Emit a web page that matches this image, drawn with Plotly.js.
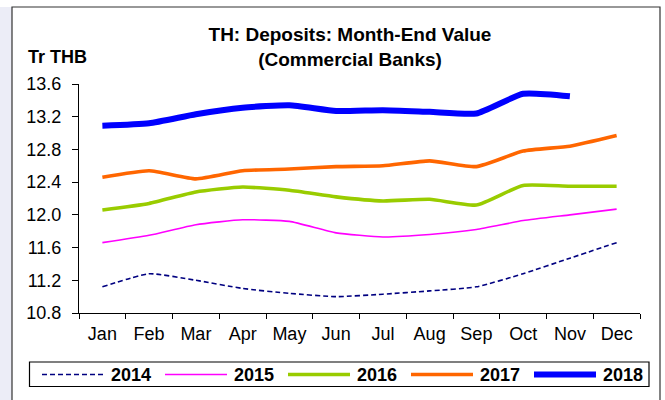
<!DOCTYPE html>
<html>
<head>
<meta charset="utf-8">
<script src="https://cdn.plot.ly/plotly-3.0.1.min.js"></script>
<style>html,body{margin:0;padding:0;background:#fff;}#chart{width:665px;height:400px;}</style>
</head>
<body>
<div id="chart"></div>
<script>
const months = ['Jan','Feb','Mar','Apr','May','Jun','Jul','Aug','Sep','Oct','Nov','Dec'];
const years = ['2014','2015','2016','2017','2018'];
const v2014 = [11.12, 11.28, 11.20, 11.10, 11.04, 11.00, 11.03, 11.07, 11.12, 11.28, 11.47, 11.66];
const v2015 = [11.66, 11.75, 11.88, 11.94, 11.92, 11.78, 11.73, 11.76, 11.82, 11.93, 12.00, 12.07];
const v2016 = [12.06, 12.14, 12.28, 12.34, 12.30, 12.22, 12.17, 12.19, 12.12, 12.36, 12.35, 12.35];
const v2017 = [12.46, 12.54, 12.44, 12.54, 12.56, 12.59, 12.60, 12.66, 12.59, 12.78, 12.84, 12.97];
const v2018 = [13.09, 13.12, 13.23, 13.31, 13.34, 13.27, 13.28, 13.26, 13.24, 13.48, 13.45];
const yTicks = [10.8, 11.2, 11.6, 12.0, 12.4, 12.8, 13.2, 13.6];

const FONT = 'Arial, "Liberation Sans", sans-serif';
const values = [v2014, v2015, v2016, v2017, v2018];
const styles = [
  {color:'#000080', width:1.6, dash:'5px,3px'},
  {color:'#FF00FF', width:1.6, dash:'solid'},
  {color:'#99CC00', width:3.6, dash:'solid'},
  {color:'#FF6600', width:3.6, dash:'solid'},
  {color:'#0000FF', width:6, dash:'solid'}
];

const traces = values.map((v, i) => ({
  type:'scatter', mode:'lines', name: years[i],
  x: months.slice(0, v.length), y: v,
  line: Object.assign({shape:'spline', smoothing:0.5}, styles[i]),
  showlegend:false, hoverinfo:'skip'
}));

// plot area in pixels
const L = 79, T = 84, W = 561, H = 229;
const px = p => (p - L) / W;
const py = p => (T + H - p) / H;

const shapes = [
  {type:'rect', xref:'paper', yref:'paper', x0:px(0), x1:px(12), y0:py(420), y1:py(7), fillcolor:'#ecedf7', line:{width:0}, layer:'below'},
  {type:'rect', xref:'paper', yref:'paper', x0:px(12), x1:px(660), y0:py(420), y1:py(7), fillcolor:'#ffffff', line:{color:'#333333', width:1.2}, layer:'below'},
  {type:'rect', xref:'paper', yref:'paper', x0:px(29.5), x1:px(649), y0:py(386.5), y1:py(362), fillcolor:'#ffffff', line:{color:'#000000', width:1.2}, layer:'below'}
];
const annotations = [
  {xref:'paper', yref:'paper', x:px(26), y:py(56.5), xanchor:'left', yanchor:'middle', text:'<b>Tr THB</b>', showarrow:false, font:{family:FONT, size:18, color:'#000'}}
];
years.forEach((yr, i) => {
  const x0 = 42 + 123 * i;
  shapes.push({type:'line', xref:'paper', yref:'paper', x0:px(x0), x1:px(x0 + 62), y0:py(374.5), y1:py(374.5), line:{color:styles[i].color, width:styles[i].width, dash:styles[i].dash}});
  annotations.push({xref:'paper', yref:'paper', x:px(x0 + 67), y:py(375), xanchor:'left', yanchor:'middle', text:'<b>' + yr + '</b>', showarrow:false, font:{family:FONT, size:18, color:'#000'}});
});

const layout = {
  width:665, height:400,
  margin:{l:L, r:665 - L - W, t:T, b:400 - T - H, pad:0},
  paper_bgcolor:'#ffffff', plot_bgcolor:'rgba(0,0,0,0)',
  font:{family:FONT, size:18, color:'#000'},
  title:{text:'<b>TH: Deposits: Month-End Value<br>(Commercial Banks)</b>', xref:'container', yref:'container', x:350/665, y:1 - 41/400, xanchor:'center', yanchor:'middle', font:{family:FONT, size:19, color:'#000'}},
  xaxis:{type:'category', categoryarray:months, range:[-0.5, 11.5], showgrid:false, zeroline:false, showline:true, linecolor:'#000', linewidth:1, ticks:'outside', tickson:'boundaries', ticklen:5, tickcolor:'#000', tickfont:{family:FONT, size:18}, ticklabelstandoff:4, fixedrange:true},
  yaxis:{range:[10.8, 13.6], tickvals:yTicks, ticktext:yTicks.map(t => t.toFixed(1)), showgrid:false, zeroline:false, showline:true, linecolor:'#000', linewidth:1, ticks:'outside', ticklen:6, tickcolor:'#000', tickfont:{family:FONT, size:18}, ticklabelstandoff:7, fixedrange:true},
  shapes: shapes, annotations: annotations
};

Plotly.newPlot('chart', traces, layout, {staticPlot:true, displayModeBar:false});
</script>
</body>
</html>
